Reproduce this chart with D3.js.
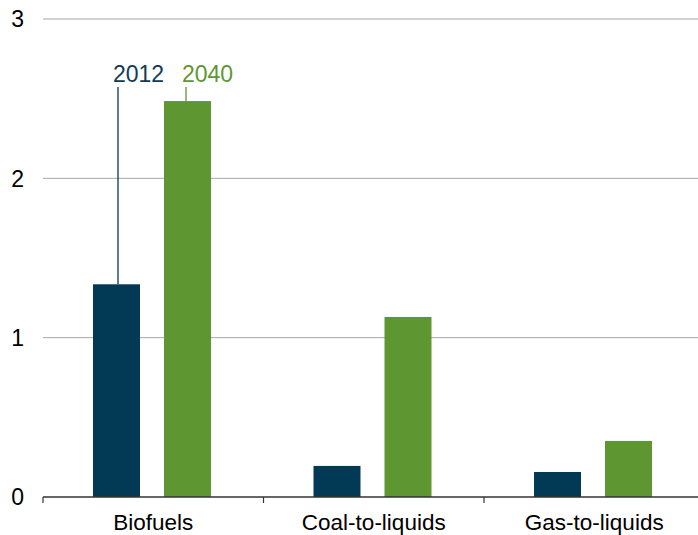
<!DOCTYPE html>
<html><head><meta charset="utf-8">
<script src="https://cdn.jsdelivr.net/npm/d3@7"></script>
<style>body{margin:0;background:#fff;overflow:hidden}svg{display:block}text{font-family:"Liberation Sans",Arial,sans-serif}</style>
</head><body><svg id="c" width="698" height="535"></svg>
<script>
const categories = ["Biofuels", "Coal-to-liquids", "Gas-to-liquids"];
const seriesNames = ["2012", "2040"];
const values2012 = [1.335, 0.195, 0.157];
const values2040 = [2.485, 1.13, 0.352];
const yTicks = [0, 1, 2, 3];
const colors = {"2012": "#023a55", "2040": "#5e9732"};

const svg = d3.select("#c");
const y = d3.scaleLinear().domain([0, 3]).range([497, 19]);
const x0 = d3.scaleBand().domain(categories).range([43, 704.5]).padding(0);
const x1 = d3.scaleBand().domain(seriesNames).range([50, 168]).paddingInner(24/71).paddingOuter(0);

// gridlines
svg.append("g").selectAll("line").data(yTicks.filter(d => d > 0)).join("line")
  .attr("x1", 43).attr("x2", 698).attr("y1", d => y(d)).attr("y2", d => y(d))
  .attr("stroke", "#a6a6a6").attr("stroke-width", 1);

// y labels
svg.append("g").selectAll("text").data(yTicks).join("text")
  .attr("x", 24).attr("y", d => y(d)).attr("dy", "0.36em")
  .attr("text-anchor", "end").attr("font-size", 23).attr("fill", "#000")
  .text(d => d);

// bars
const data = categories.map((c, i) => ({cat: c, vals: [{s: "2012", v: values2012[i]}, {s: "2040", v: values2040[i]}]}));
const g = svg.append("g").selectAll("g").data(data).join("g")
  .attr("transform", d => `translate(${x0(d.cat)},0)`);
g.selectAll("rect").data(d => d.vals).join("rect")
  .attr("x", d => x1(d.s)).attr("width", x1.bandwidth())
  .attr("y", d => y(d.v)).attr("height", d => y(0) - y(d.v))
  .attr("fill", d => colors[d.s]);

// x axis
const axisY = y(0);
svg.append("line").attr("x1", 43).attr("x2", 698).attr("y1", axisY).attr("y2", axisY)
  .attr("stroke", "#333").attr("stroke-width", 1.5);
const tickXs = categories.map(c => x0(c));
svg.append("g").selectAll("line").data(tickXs).join("line")
  .attr("x1", d => d).attr("x2", d => d).attr("y1", axisY).attr("y2", axisY + 6)
  .attr("stroke", "#333").attr("stroke-width", 1.2);
svg.append("g").selectAll("text").data(categories).join("text")
  .attr("x", d => x0(d) + x0.bandwidth() / 2).attr("y", 530)
  .attr("text-anchor", "middle").attr("font-size", 22.5).attr("fill", "#000")
  .text(d => d);

// legend annotations
const b0 = x0(categories[0]);
const leaderTop = 87;
const lx2012 = b0 + x1("2012") + x1.bandwidth() / 2 + 1.5;
const lx2040 = b0 + x1("2040") + x1.bandwidth() / 2 - 1.5;
svg.append("line").attr("x1", lx2012).attr("x2", lx2012).attr("y1", leaderTop).attr("y2", y(values2012[0]))
  .attr("stroke", colors["2012"]).attr("stroke-width", 1.3);
svg.append("line").attr("x1", lx2040).attr("x2", lx2040).attr("y1", leaderTop).attr("y2", y(values2040[0]))
  .attr("stroke", colors["2040"]).attr("stroke-width", 1.3);
svg.append("text").attr("x", 113).attr("y", 82).attr("font-size", 23).attr("fill", "#0f3b57").text(seriesNames[0]);
svg.append("text").attr("x", 182).attr("y", 82).attr("font-size", 23).attr("fill", colors["2040"]).text(seriesNames[1]);
</script></body></html>
